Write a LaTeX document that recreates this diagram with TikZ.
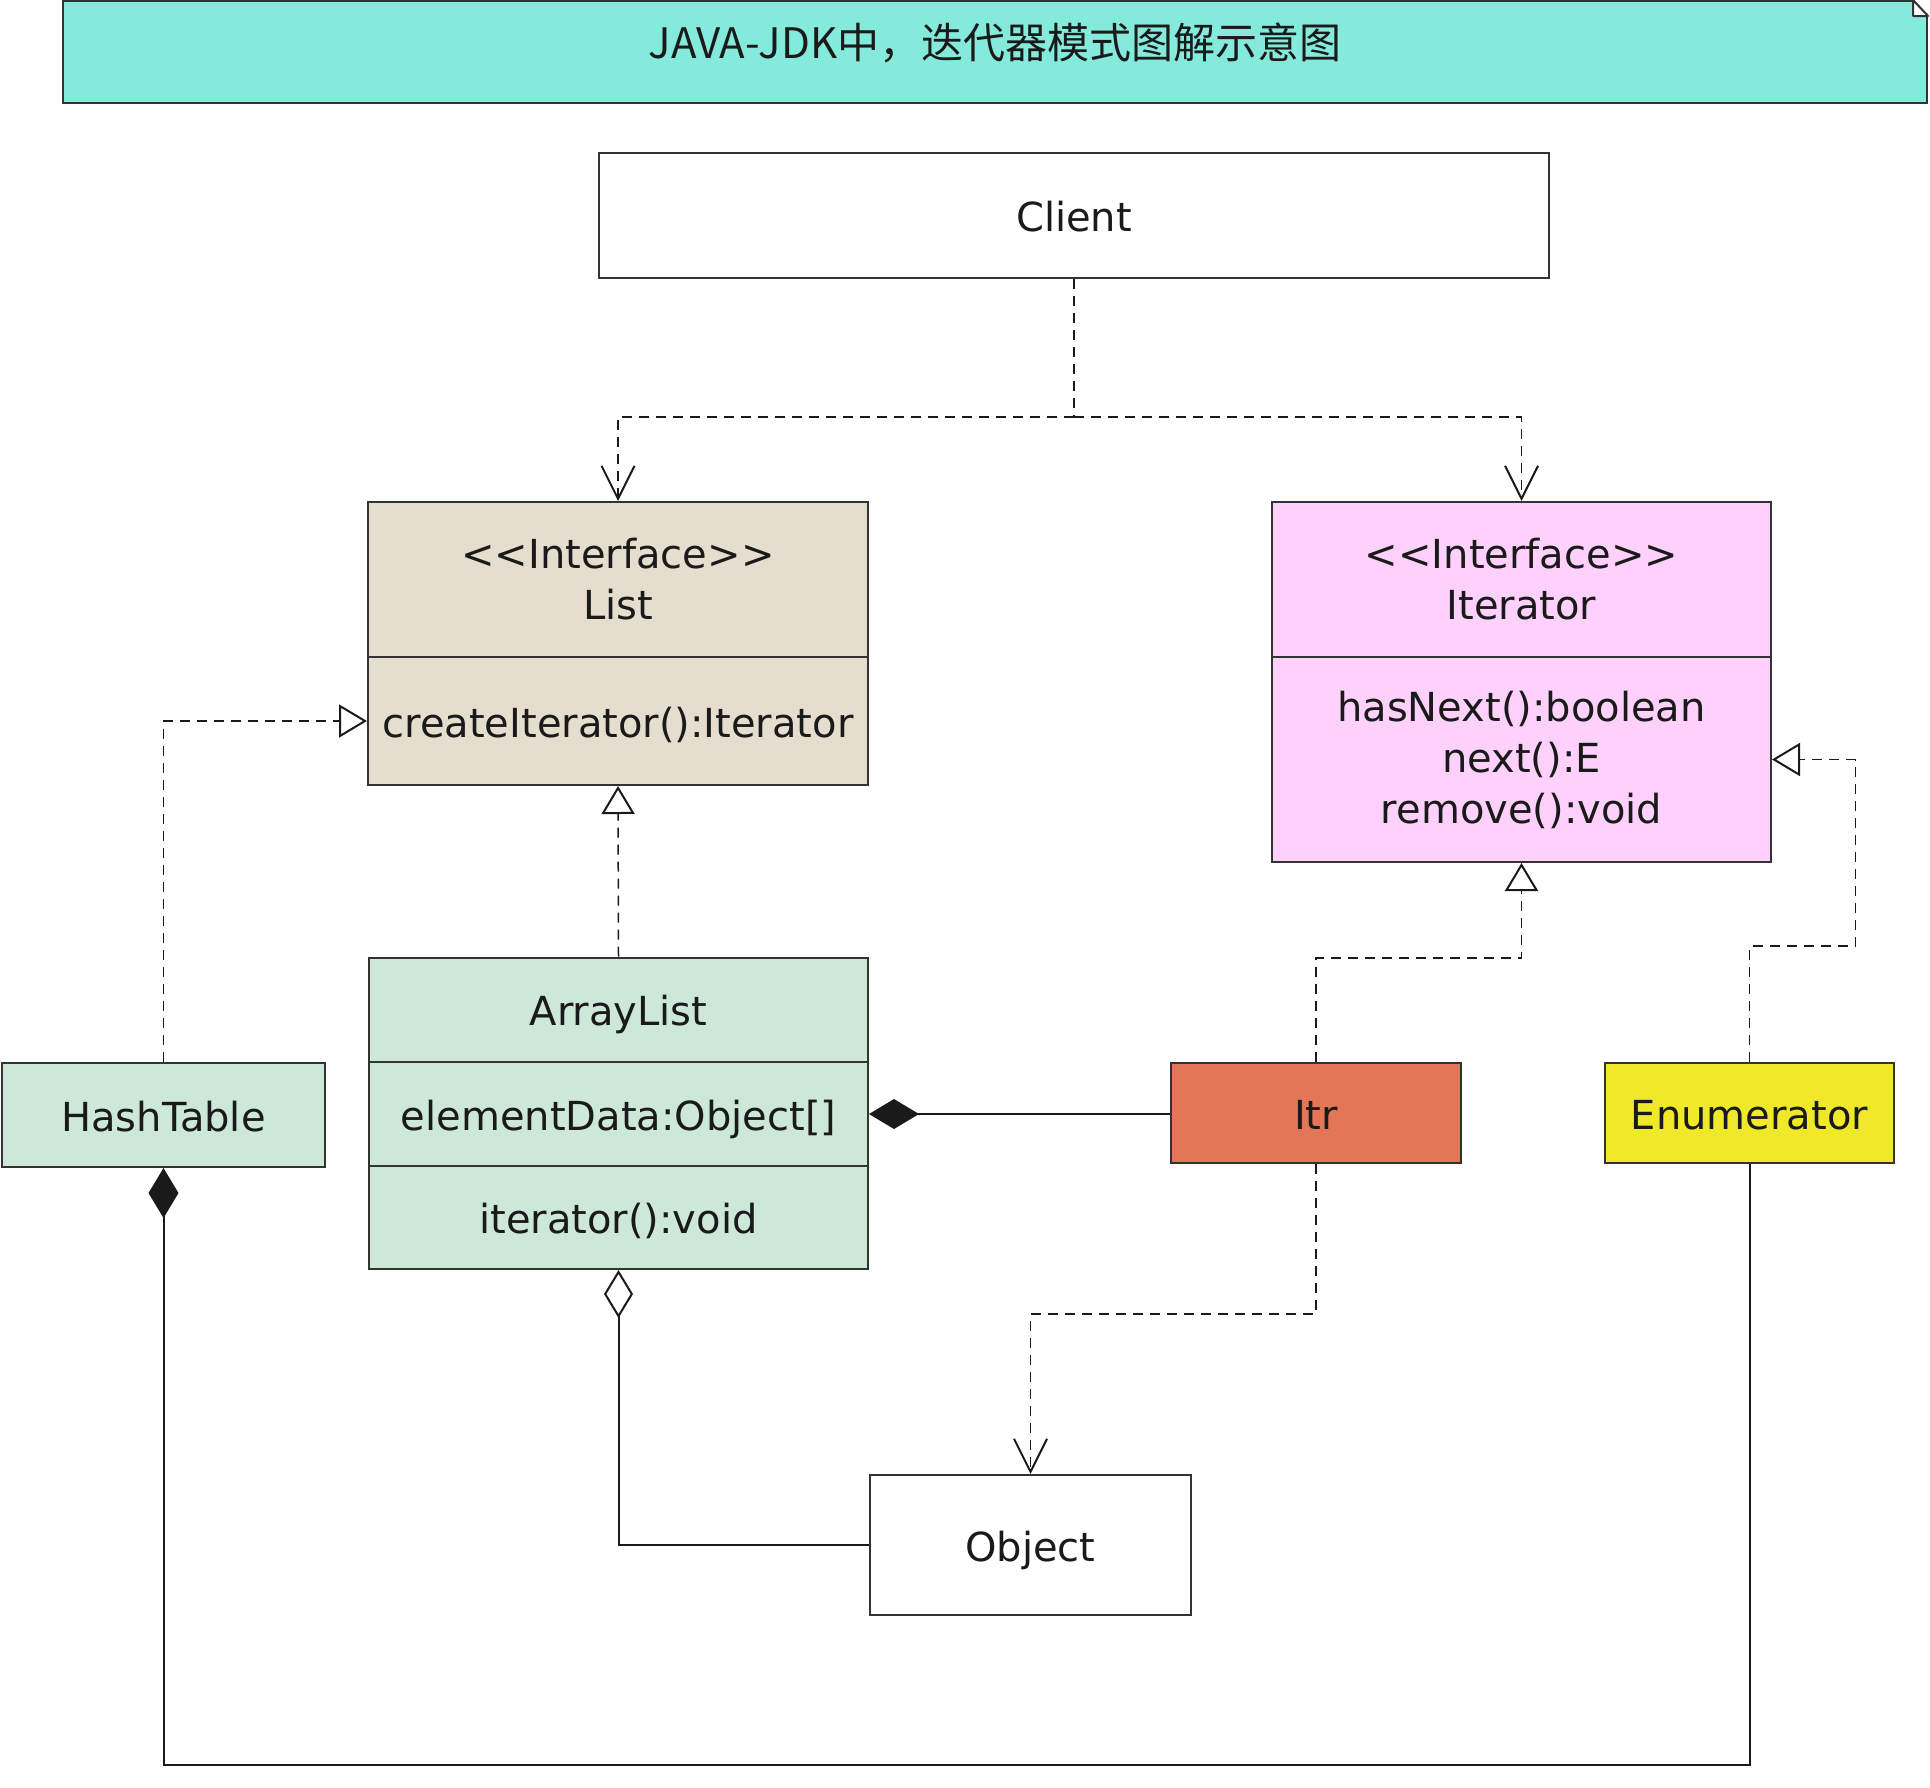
\documentclass[tikz,border=0pt]{standalone}
\usepackage{fontspec}
\setmainfont{DejaVu Sans}
\newfontfamily\cjkfont{Noto Sans CJK SC}
\usepackage{tikz}
\usetikzlibrary{arrows.meta}
\definecolor{titlefill}{RGB}{132,235,220}
\definecolor{listfill}{RGB}{229,222,207}
\definecolor{iterfill}{RGB}{253,209,251}
\definecolor{classfill}{RGB}{205,232,216}
\definecolor{itrfill}{RGB}{227,118,87}
\definecolor{enumfill}{RGB}{240,233,42}
\definecolor{boxline}{RGB}{51,51,51}
\definecolor{ink}{RGB}{26,26,26}

\begin{document}
\begin{tikzpicture}[x=1pt,y=-1pt,
  box/.style={shape=rectangle,draw=boxline,line width=2pt,fill=white,inner sep=0pt,text=ink,align=center,font=\fontsize{40}{51}\selectfont},
  oneline/.style={box,text height=40pt,text depth=8pt},
  dashline/.style={draw=ink,line width=1.5pt,dash pattern=on 10pt off 7pt},
  dep/.style={dashline,-{Straight Barb[length=33pt,width=33pt,line width=2pt]}},
  real/.style={dashline,-{Triangle[open,fill=white,length=28pt,width=33pt,line width=2pt]}},
  comp/.style={draw=ink,line width=2pt,-{Diamond[length=50pt,width=30pt]}},
  agg/.style={draw=ink,line width=2pt,-{Diamond[open,fill=white,length=48pt,width=29pt]}}]
\useasboundingbox (0,0) rectangle (1930,1788);

\node[box,fill=titlefill,minimum width=1864pt,minimum height=102pt,text depth=23pt,font=\cjkfont\fontsize{42}{50}\selectfont] (title) at (995,52) {JAVA-JDK中，迭代器模式图解示意图};
\fill[white] ([xshift=-15pt,yshift=1.5pt]title.north east) -- ([xshift=1.5pt,yshift=1.5pt]title.north east) -- ([xshift=1.5pt,yshift=-16pt]title.north east) -- cycle;
\draw[boxline,line width=2pt,fill=white,line join=round] ([xshift=-15pt]title.north east) -- ([yshift=-16pt]title.north east) -- ([xshift=-15pt,yshift=-16pt]title.north east) -- cycle;

\node[oneline,minimum width=950pt,minimum height=125pt] (client) at (1074,215.5) {Client};

\node[box,fill=listfill,minimum width=500pt,minimum height=155pt] (listhead) at (618,579.5) {\textless\kern0pt\textless\kern0pt Interface\kern0pt\textgreater\kern0pt\textgreater\\List};
\node[oneline,fill=listfill,minimum width=500pt,minimum height=128pt] (listops) at (618,721) {createIterator():Iterator};

\node[box,fill=iterfill,minimum width=499pt,minimum height=155pt] (iterhead) at (1521.5,579.5) {\textless\kern0pt\textless\kern0pt Interface\kern0pt\textgreater\kern0pt\textgreater\\Iterator};
\node[box,fill=iterfill,minimum width=499pt,minimum height=205pt] (iterops) at (1521.5,759.5) {hasNext():boolean\\next():E\\remove():void};

\node[oneline,fill=classfill,minimum width=499pt,minimum height=104pt] (arrname) at (618.5,1009.5) {ArrayList};
\node[oneline,fill=classfill,minimum width=499pt,minimum height=104pt] (arrdata) at (618.5,1114) {elementData:Object[]};
\node[oneline,fill=classfill,minimum width=499pt,minimum height=103pt] (arrops) at (618.5,1217.5) {iterator():void};

\node[oneline,fill=classfill,minimum width=323pt,minimum height=104pt] (hash) at (163.5,1115) {HashTable};
\node[oneline,fill=itrfill,minimum width=290pt,minimum height=100pt] (itr) at (1316,1113) {Itr};
\node[oneline,fill=enumfill,minimum width=289pt,minimum height=100pt] (enum) at (1749.5,1113) {Enumerator};

\node[oneline,minimum width=321pt,minimum height=140pt] (object) at (1030.5,1545) {Object};

\coordinate (fork) at ([yshift=-138pt]client.south);
\draw[dashline] (client.south) -- (fork);
\draw[dep] (fork) -| (listhead.north);
\draw[dep] (fork) -| (iterhead.north);

\draw[real] (hash.north) |- (listops.west);
\draw[real] (arrname.north) -- (listops.south);
\draw[real] (itr.north) -- ++(0,-104) -| (iterops.south);
\draw[real] (enum.north) -- ++(0,-116) -- ++(106,0) |- (iterops.east);

\draw[comp] (arrdata.east -| itr.west) -- (arrdata.east);
\draw[dep] (itr.south) -- ++(0,150) -| (object.north);
\draw[agg] (object.west) -| (arrops.south);
\draw[comp] (enum.south) -- ++(0,601) -| (hash.south);
\end{tikzpicture}
\end{document}
